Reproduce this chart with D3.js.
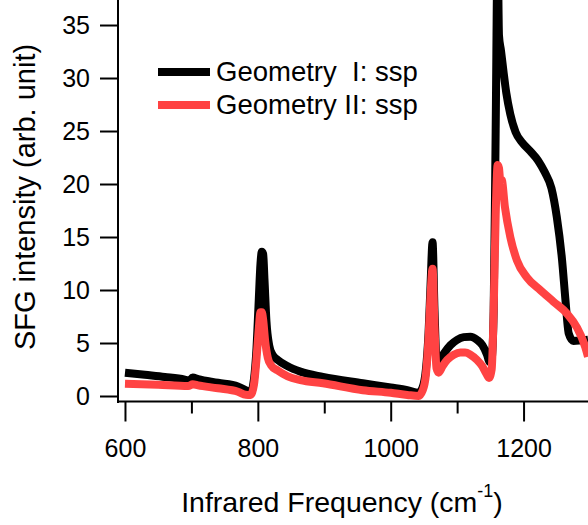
<!DOCTYPE html>
<html>
<head>
<meta charset="utf-8">
<script src="https://cdn.jsdelivr.net/npm/d3@7"></script>
<style>
  html, body { margin: 0; padding: 0; background: #fff; }
  svg { display: block; font-family: "Liberation Sans", Arial, Helvetica, sans-serif; }
  text { white-space: pre; }
</style>
</head>
<body>
<svg id="chart" width="588" height="525"></svg>
<script>
// ---- data ----
const seriesNames = ["Geometry  I: ssp", "Geometry II: ssp"];
const seriesColors = ["#000000", "#ff4343"];

const geom1Freq = [600, 630, 660, 690, 697, 702, 710, 740, 770, 782, 789, 794, 798, 801, 804, 806, 808, 810, 813, 817, 822, 830, 845, 864, 898, 958, 1000, 1025, 1042, 1048, 1053, 1057, 1060, 1063, 1066, 1069, 1073, 1080, 1090, 1100, 1110, 1120, 1130, 1138, 1145, 1149, 1152, 1155, 1158, 1161, 1163, 1166, 1170, 1174, 1180, 1188, 1198, 1210, 1222, 1232, 1242, 1250, 1258, 1263, 1268, 1275, 1297];
const geom1Val  = [2.2, 2.0, 1.8, 1.55, 1.45, 1.75, 1.6, 1.25, 0.9, 0.55, 0.3, 1.5, 4.5, 8.5, 12.5, 13.6, 13.4, 11, 7, 4.8, 3.9, 3.4, 2.8, 2.3, 1.8, 1.2, 0.8, 0.55, 0.3, 0.8, 2.5, 6, 10.5, 14.5, 8, 3.6, 3.3, 4.0, 4.8, 5.3, 5.55, 5.6, 5.3, 4.8, 3.9, 3.2, 3.5, 8, 25, 42, 34, 32.6, 30.5, 28.6, 26.6, 24.9, 23.9, 23.1, 22.2, 21.1, 19.6, 16.9, 12.8, 9.1, 5.9, 5.2, 5.3];

const geom2Freq = [600, 650, 695, 702, 710, 740, 770, 782, 789, 794, 798, 801, 804, 806, 808, 811, 815, 820, 830, 845, 864, 898, 958, 1000, 1025, 1042, 1048, 1053, 1057, 1060, 1063, 1066, 1069, 1072, 1078, 1085, 1095, 1105, 1112, 1120, 1130, 1138, 1144, 1148, 1152, 1155, 1158, 1161, 1163, 1165, 1167, 1172, 1180, 1190, 1205, 1225, 1245, 1265, 1280, 1293, 1297];
const geom2Val  = [1.16, 1.05, 0.94, 1.1, 1.0, 0.73, 0.4, 0.12, 0.1, 1.0, 3.5, 6, 7.9, 7.9, 7.2, 5.2, 3.6, 2.9, 2.4, 1.85, 1.5, 1.2, 0.55, 0.3, 0.1, 0.0, 0.5, 2, 5.5, 9.5, 12.0, 6.5, 2.6, 2.2, 2.8, 3.4, 3.9, 4.1, 4.1, 3.9, 3.4, 2.8, 2.1, 1.7, 2.5, 8, 17, 21.8, 21.5, 20.3, 20.4, 17.8, 15, 12.8, 11.2, 10, 8.9, 7.8, 6.5, 4.6, 3.7];

const xMajorTicks = [600, 800, 1000, 1200];
const xMinorTicks = [700, 900, 1100];
const yTicks = [0, 5, 10, 15, 20, 25, 30, 35];

// ---- layout ----
const svg = d3.select("#chart");
const x = d3.scaleLinear().domain([589.5, 1297]).range([118, 588]);
const y = d3.scaleLinear().domain([-0.566, 37.36]).range([402, 0]);

// clip
svg.append("clipPath").attr("id", "plotclip")
  .append("rect").attr("x", 118).attr("y", 0).attr("width", 470).attr("height", 402);

// data lines
const line = d3.line().x(d => x(d[0])).y(d => y(d[1])).curve(d3.curveMonotoneX);
const series = [
  geom1Freq.map((f, i) => [f, geom1Val[i]]),
  geom2Freq.map((f, i) => [f, geom2Val[i]])
];
const plot = svg.append("g").attr("clip-path", "url(#plotclip)");
series.forEach((s, i) => {
  plot.append("path").datum(s)
    .attr("d", line)
    .attr("fill", "none")
    .attr("stroke", seriesColors[i])
    .attr("stroke-width", 8);
});

// y axis
const yAxis = d3.axisLeft(y).tickValues(yTicks).tickSize(18).tickPadding(10).tickSizeOuter(0);
const gy = svg.append("g").attr("transform", "translate(118,0)").call(yAxis);
gy.select(".domain").attr("stroke-width", 2).attr("d", "M0,0V403");
gy.selectAll(".tick line").attr("stroke-width", 2);
gy.selectAll(".tick text").attr("font-size", 25).attr("font-family", "Liberation Sans, Arial, sans-serif").attr("fill", "#000");

// x axis
const gx = svg.append("g").attr("transform", "translate(0,401.5)");
gx.append("line").attr("x1", 117).attr("x2", 588).attr("y1", 0).attr("y2", 0)
  .attr("stroke", "#000").attr("stroke-width", 2);
const xAxis = d3.axisBottom(x).tickValues(xMajorTicks).tickFormat(d3.format("d"))
  .tickSize(20).tickPadding(18).tickSizeOuter(0);
const gxa = gx.append("g").call(xAxis);
gxa.select(".domain").remove();
gxa.selectAll(".tick line").attr("stroke-width", 2);
gxa.selectAll(".tick text").attr("font-size", 25).attr("font-family", "Liberation Sans, Arial, sans-serif").attr("fill", "#000");
const xAxisMinor = d3.axisBottom(x).tickValues(xMinorTicks).tickSize(12).tickFormat("").tickSizeOuter(0);
const gxm = gx.append("g").call(xAxisMinor);
gxm.select(".domain").remove();
gxm.selectAll(".tick line").attr("stroke-width", 2);

// axis titles
const xt = svg.append("text").attr("x", 342).attr("y", 512)
  .attr("text-anchor", "middle").attr("font-size", 28.5).attr("fill", "#000");
xt.append("tspan").text("Infrared Frequency (cm");
xt.append("tspan").attr("font-size", 18).attr("dy", -15).text("-1");
xt.append("tspan").attr("dy", 15).text(")");

svg.append("text").attr("transform", "translate(35,197) rotate(-90)")
  .attr("text-anchor", "middle").attr("font-size", 29).attr("fill", "#000")
  .text("SFG intensity (arb. unit)");

// legend
const legY = [72, 105];
seriesNames.forEach((name, i) => {
  svg.append("line").attr("x1", 158).attr("x2", 210).attr("y1", legY[i]).attr("y2", legY[i])
    .attr("stroke", seriesColors[i]).attr("stroke-width", 8);
  svg.append("text").attr("x", 216).attr("y", legY[i] + 9)
    .attr("font-size", 27.5).attr("fill", "#000").text(name);
});
</script>
</body>
</html>
